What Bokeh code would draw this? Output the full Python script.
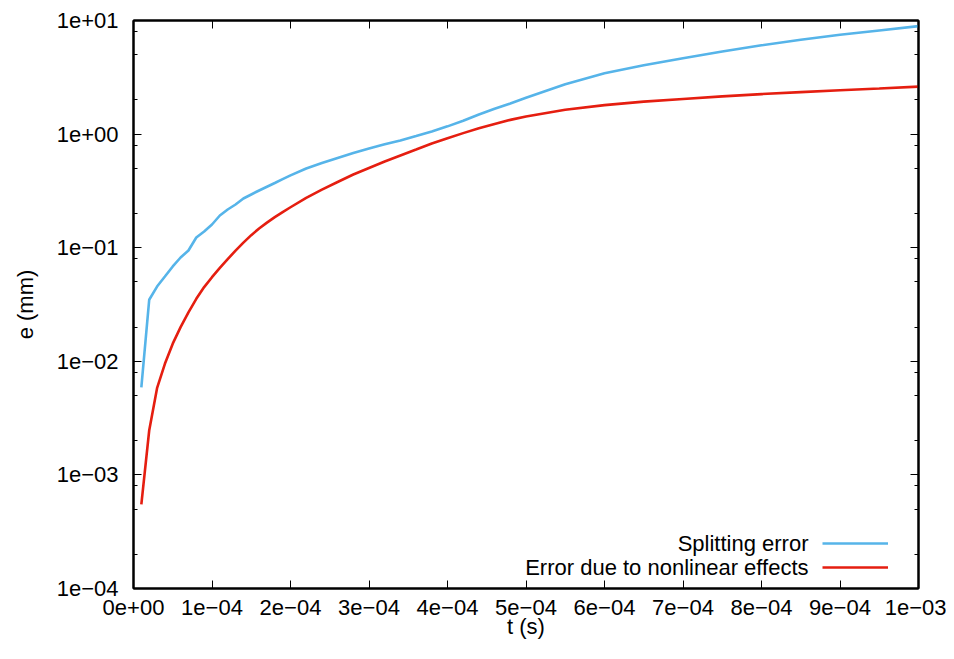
from bokeh.plotting import figure
from bokeh.models import (FixedTicker, CustomJSTickFormatter, LinearAxis, LogAxis,
                          Legend, LegendItem, Label, Range1d)
from bokeh.embed import file_html
from bokeh.resources import INLINE

# ---------------- data ----------------
t = [1e-5, 2e-5, 3e-5, 4e-5, 5e-5, 6e-5, 7e-5, 8e-5, 9e-5, 1.0e-4,
     1.1e-4, 1.2e-4, 1.3e-4, 1.4e-4, 1.5e-4, 1.6e-4, 1.7e-4, 1.8e-4, 1.9e-4, 2.0e-4,
     2.2e-4, 2.4e-4, 2.6e-4, 2.8e-4, 3.0e-4, 3.2e-4, 3.4e-4, 3.6e-4, 3.8e-4, 4.0e-4,
     4.2e-4, 4.4e-4, 4.6e-4, 4.8e-4,
     5.0e-4, 5.5e-4, 6.0e-4, 6.5e-4, 7.0e-4, 7.5e-4, 8.0e-4, 8.5e-4, 9.0e-4, 9.5e-4, 1.0e-3]

splitting_error = [0.0059, 0.0348, 0.0455, 0.0557, 0.0684, 0.082, 0.0945, 0.123, 0.139, 0.16,
                   0.192, 0.217, 0.24, 0.271, 0.294, 0.319, 0.344, 0.371, 0.401, 0.433,
                   0.498, 0.556, 0.617, 0.682, 0.747, 0.813, 0.879, 0.962, 1.055, 1.17,
                   1.31, 1.49, 1.67, 1.86,
                   2.09, 2.75, 3.43, 4.03, 4.66, 5.33, 6.05, 6.76, 7.48, 8.17, 8.93]

nonlinear_error = [5.5e-4, 0.00246, 0.0058, 0.0095, 0.0143, 0.0200, 0.027, 0.0355, 0.045, 0.055,
                   0.0664, 0.0794, 0.0942, 0.1107, 0.129, 0.1476, 0.1663, 0.1858, 0.206, 0.227,
                   0.275, 0.325, 0.379, 0.441, 0.503, 0.574, 0.648, 0.731, 0.826, 0.92,
                   1.02, 1.125, 1.23, 1.334,
                   1.43, 1.64, 1.80, 1.93, 2.04, 2.15, 2.25, 2.34, 2.43, 2.52, 2.62]

series_names = ["Splitting error", "Error due to nonlinear effects"]

x_tick_labels = ["0e+00", "1e\u221204", "2e\u221204", "3e\u221204", "4e\u221204", "5e\u221204",
                 "6e\u221204", "7e\u221204", "8e\u221204", "9e\u221204", "1e\u221203"]
x_ticks = [0.0, 1e-4, 2e-4, 3e-4, 4e-4, 5e-4, 6e-4, 7e-4, 8e-4, 9e-4, 1e-3]

y_tick_labels = ["1e\u221204", "1e\u221203", "1e\u221202", "1e\u221201", "1e+00", "1e+01"]
y_ticks = [1e-4, 1e-3, 1e-2, 1e-1, 1e0, 1e1]
y_minor_ticks = [2e-4, 5e-4, 8e-4, 2e-3, 5e-3, 8e-3, 2e-2, 5e-2, 8e-2,
                 2e-1, 5e-1, 8e-1, 2e0, 5e0, 8e0]

x_label = "t (s)"
y_label = "e (mm)"

# ---------------- style ----------------
FONT = "Liberation Sans"
FS = "22px"
BLUE = "#56b4e9"
RED = "#e51e10"

p = figure(width=946, height=643, output_backend="svg", toolbar_location=None,
           y_axis_type="log",
           x_range=Range1d(0, 1e-3), y_range=Range1d(1e-4, 1e1),
           min_border_left=133, min_border_right=28, min_border_top=20, min_border_bottom=55)
p.background_fill_color = "white"
p.border_fill_color = "white"
p.outline_line_color = "black"
p.outline_line_width = 2
p.grid.visible = False

fmt_code = """
let best = -1;
for (let i = 0; i < tk.length; i++) {
  if (Math.abs(tk[i] - tick) <= 1e-6 * Math.abs(tk[i]) + 1e-15) { best = i; break; }
}
return best >= 0 ? lb[best] : '';
"""

xa = p.xaxis[0]
xa.ticker = FixedTicker(ticks=x_ticks, minor_ticks=[])
xa.formatter = CustomJSTickFormatter(args=dict(tk=x_ticks, lb=x_tick_labels), code=fmt_code)
ya = p.yaxis[0]
ya.ticker = FixedTicker(ticks=y_ticks, minor_ticks=y_minor_ticks)
ya.formatter = CustomJSTickFormatter(args=dict(tk=y_ticks, lb=y_tick_labels), code=fmt_code)

xa.axis_label = x_label
ya.axis_label = y_label

for ax in (xa, ya):
    ax.axis_line_color = "black"
    ax.axis_line_width = 2
    ax.major_tick_in = 8
    ax.major_tick_out = 0
    ax.minor_tick_in = 4
    ax.minor_tick_out = 0
    ax.major_tick_line_color = "black"
    ax.minor_tick_line_color = "black"
    ax.major_tick_line_width = 1
    ax.minor_tick_line_width = 1
    ax.major_label_text_font = FONT
    ax.major_label_text_font_size = FS
    ax.major_label_text_color = "black"
    ax.axis_label_text_font = FONT
    ax.axis_label_text_font_size = FS
    ax.axis_label_text_font_style = "normal"
    ax.axis_label_text_color = "black"

xa.major_label_standoff = 11
xa.axis_label_standoff = -4
ya.major_label_standoff = 15
ya.axis_label_standoff = 16

blank = CustomJSTickFormatter(code="return '';")
top = LinearAxis(ticker=FixedTicker(ticks=x_ticks, minor_ticks=[]), formatter=blank)
right = LogAxis(ticker=FixedTicker(ticks=y_ticks, minor_ticks=y_minor_ticks), formatter=blank)
for ax in (top, right):
    ax.axis_line_color = "black"
    ax.axis_line_width = 2
    ax.major_tick_in = 8
    ax.major_tick_out = 0
    ax.minor_tick_in = 4
    ax.minor_tick_out = 0
    ax.major_tick_line_color = "black"
    ax.minor_tick_line_color = "black"
    ax.major_label_standoff = 0
    ax.major_label_text_font_size = "1px"
p.add_layout(top, "above")
p.add_layout(right, "right")

r1 = p.line(t, splitting_error, line_color=BLUE, line_width=2.6)
r2 = p.line(t, nonlinear_error, line_color=RED, line_width=2.6)

# legend: gnuplot-style, text right-aligned to the left of the line sample
legend = Legend(items=[LegendItem(label=" ", renderers=[r1]),
                       LegendItem(label=" ", renderers=[r2])],
                location=(689, 9), orientation="vertical",
                glyph_width=66, glyph_height=24, label_height=24, label_width=0,
                label_standoff=0, spacing=0, padding=0, margin=0,
                label_text_font_size="6px",
                background_fill_alpha=0, border_line_color=None)
p.add_layout(legend, "center")

for name, yy in zip(series_names, [45, 21]):
    p.add_layout(Label(x=675, y=yy, x_units="screen", y_units="screen", text=name,
                       text_align="right", text_baseline="middle",
                       text_font=FONT, text_font_size=FS, text_color="black"))

open("out.html", "w").write(file_html(p, INLINE))
